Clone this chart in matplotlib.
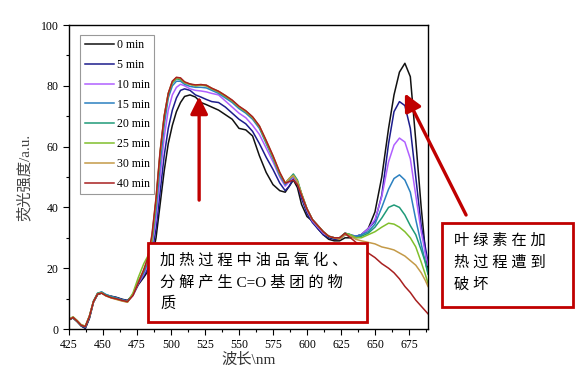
import matplotlib
matplotlib.use('Agg')
import matplotlib.pyplot as plt
from matplotlib.patches import Rectangle
from matplotlib.ticker import MultipleLocator

plt.rcParams['font.family'] = ['Liberation Serif', 'Noto Sans CJK SC']

# wavelength grid (nm)
wl = [425, 428, 431, 434, 437, 440, 443, 446, 449, 452,
      456, 460, 464, 468, 472, 476, 480, 483, 486, 489,
      492, 495, 498, 501, 504, 507, 510, 514, 518, 522,
      526, 530, 535, 540, 545, 550, 555, 560, 565, 570,
      575, 580, 584, 587, 590, 593, 596, 600, 604, 608,
      612, 616, 620, 624, 628, 632, 636, 640, 645, 650,
      655, 660, 664, 668, 672, 676, 680, 684, 687, 689]

t0 = [3.2, 3.6, 2.4, 1.0, 0.2, 3.5, 8.8, 11.3, 11.8, 11.2,
      10.8, 10.4, 9.8, 9.4, 11.2, 14.6, 17.0, 19.0, 23.0, 30.0,
      41.0, 52.0, 61.0, 67.0, 71.5, 74.5, 76.5, 77.0, 76.3, 74.5,
      73.8, 73.0, 72.0, 70.5, 69.0, 66.0, 65.5, 63.5, 57.0, 51.5,
      47.5, 45.5, 45.0, 47.0, 49.0, 46.5, 41.0, 37.0, 35.5, 33.0,
      31.0, 29.5, 29.0, 29.0, 30.0, 30.0, 30.5, 31.0, 33.0, 38.5,
      50.0, 66.0, 77.0, 84.5, 87.4, 83.0, 62.0, 40.0, 26.0, 19.0]

t5 = [3.0, 3.7, 2.5, 1.0, 0.3, 3.6, 8.9, 11.4, 11.9, 11.1,
      10.7, 10.3, 9.7, 9.3, 11.1, 14.8, 17.5, 20.0, 25.0, 33.0,
      45.0, 57.0, 66.0, 72.0, 76.0, 78.5, 79.0, 78.5, 77.0, 76.3,
      75.5, 74.8, 74.5, 73.0, 71.0, 69.0, 67.5, 65.0, 61.0, 56.5,
      52.5, 48.0, 45.5, 47.0, 49.5, 47.5, 43.0, 38.0, 35.0, 33.0,
      31.0, 30.0, 29.5, 29.5, 31.0, 30.5, 30.5, 31.0, 33.0, 35.5,
      44.0, 61.0, 71.5, 74.8, 73.5, 66.0, 50.0, 34.0, 27.0, 22.0]

t10 = [3.1, 3.9, 2.7, 1.3, 0.7, 4.1, 9.0, 11.6, 12.1, 11.3,
       10.6, 10.1, 9.5, 9.1, 11.0, 15.0, 18.0, 21.0, 27.0, 36.0,
       50.0, 63.0, 72.0, 77.0, 79.5, 80.5, 80.0, 79.0, 78.5, 78.3,
       78.0, 77.5, 77.0, 75.0, 73.0, 71.0, 69.5, 67.0, 64.0, 59.5,
       55.0, 50.0, 47.0, 48.5, 50.0, 48.0, 44.0, 39.0, 35.5, 33.5,
       31.5, 30.5, 30.0, 30.0, 31.5, 31.0, 30.5, 31.0, 33.0, 36.0,
       43.5, 55.0, 60.5, 62.8, 61.5, 56.0, 44.0, 32.0, 25.0, 21.0]

t15 = [3.0, 3.8, 2.6, 1.2, 0.8, 4.2, 9.1, 11.7, 12.2, 11.4,
       10.7, 10.2, 9.6, 9.2, 11.3, 15.3, 18.5, 22.0, 28.0, 39.0,
       54.0, 67.0, 76.0, 80.0, 81.5, 81.5, 80.5, 79.8, 79.5, 79.5,
       79.3, 78.5, 77.5, 76.0, 74.5, 72.5, 71.0, 69.0, 66.0, 61.0,
       56.0, 50.5, 47.5, 49.0, 50.5, 48.5, 44.5, 39.5, 36.0, 34.0,
       32.0, 30.5, 30.0, 30.0, 31.5, 31.0, 30.5, 31.0, 32.0, 34.5,
       40.0, 46.0, 49.5, 50.7, 49.0, 45.0, 36.0, 28.0, 22.0, 18.5]

t20 = [3.1, 3.7, 2.5, 1.1, 0.7, 4.0, 9.2, 11.8, 12.1, 11.2,
       10.5, 10.0, 9.4, 9.0, 11.5, 15.8, 19.0, 23.0, 30.0, 42.0,
       57.0, 69.0, 77.0, 81.0, 82.3, 82.0, 81.0, 80.5, 80.0, 80.3,
       80.0, 79.0, 78.0, 76.5, 75.0, 73.0, 71.5, 69.5, 66.5, 61.5,
       56.5, 51.0, 48.0, 49.5, 51.0, 49.0, 44.5, 39.5, 36.0, 34.0,
       32.0, 30.5, 30.0, 30.0, 31.5, 31.0, 30.0, 30.5, 31.5, 33.5,
       36.5, 40.0, 40.8, 40.0, 37.5, 34.0, 31.0, 26.0, 22.0, 18.0]

t25 = [3.3, 4.0, 2.8, 1.4, 1.0, 4.3, 9.0, 11.5, 11.9, 11.0,
       10.3, 9.8, 9.3, 8.9, 11.8, 17.0, 21.5, 24.0, 29.0, 42.0,
       58.0, 70.0, 77.5, 81.0, 82.5, 82.3, 81.0, 80.5, 80.0, 80.2,
       80.0, 79.0, 78.0, 76.5, 75.0, 73.0, 71.5, 69.5, 66.5, 61.5,
       56.5, 51.0, 48.0, 49.5, 50.5, 48.5, 44.5, 39.5, 36.0, 34.0,
       32.0, 30.5, 30.0, 30.0, 31.5, 31.0, 30.0, 30.0, 31.0, 32.0,
       33.5, 34.8, 34.5, 33.5, 32.0, 30.0, 27.0, 22.0, 18.0, 15.0]

t30 = [3.2, 3.9, 2.7, 1.3, 0.9, 4.2, 9.1, 11.6, 11.8, 10.9,
       10.2, 9.7, 9.2, 8.8, 11.2, 15.5, 19.5, 23.0, 30.5, 43.0,
       58.0, 70.0, 77.5, 81.5, 82.7, 82.5, 81.2, 80.5, 80.2, 80.4,
       80.2, 79.2, 78.2, 76.8, 75.2, 73.2, 71.7, 69.7, 66.8, 62.0,
       57.0, 51.5, 48.0, 49.5, 50.5, 48.5, 44.5, 39.5, 36.0, 34.0,
       32.0, 30.5, 30.0, 29.5, 31.0, 30.5, 29.5, 29.0, 28.5, 28.0,
       27.0, 26.5, 26.0, 25.0, 24.0, 22.5, 21.0, 18.5, 16.0, 14.0]

t40 = [3.0, 3.8, 2.6, 1.2, 0.8, 4.1, 9.0, 11.5, 11.8, 11.0,
       10.3, 9.9, 9.4, 9.0, 11.0, 15.2, 19.5, 23.5, 31.0, 43.0,
       58.5, 70.0, 77.5, 81.5, 82.8, 82.6, 81.3, 80.6, 80.3, 80.4,
       80.2, 79.2, 78.2, 76.8, 75.3, 73.3, 71.8, 69.8, 66.8, 62.0,
       57.0, 51.5, 48.0, 48.5, 49.0, 47.5, 44.0, 39.5, 36.0, 34.0,
       32.0, 30.5, 30.0, 30.0, 31.5, 30.0, 28.5, 27.0, 25.0, 23.5,
       21.5, 20.0, 18.5, 16.5, 14.0, 12.0, 9.5, 7.5, 6.0, 5.0]

series = [t0, t5, t10, t15, t20, t25, t30, t40]
labels = ['0 min', '5 min', '10 min', '15 min', '20 min', '25 min', '30 min', '40 min']
colors = ['#111111', '#1c1c8c', '#b060ff', '#2b80c0', '#1f9a78',
          '#80bf2c', '#c49a48', '#a82020']

fig = plt.figure(figsize=(5.81, 3.71), dpi=100)
ax = fig.add_axes([69 / 581, 42 / 371, 359 / 581, 304 / 371])

for ys, lab, c in zip(series, labels, colors):
    ax.plot(wl, ys, color=c, lw=1.1, label=lab)

ax.set_xlim(425, 689)
ax.set_ylim(0, 100)
ax.xaxis.set_major_locator(MultipleLocator(25))
ax.xaxis.set_minor_locator(MultipleLocator(12.5))
ax.yaxis.set_major_locator(MultipleLocator(20))
ax.yaxis.set_minor_locator(MultipleLocator(10))
ax.tick_params(which='both', direction='out', top=False, right=False,
               labelsize=8.5)
ax.tick_params(which='major', length=4, width=0.8)
ax.tick_params(which='minor', length=2.5, width=0.8)
for sp in ax.spines.values():
    sp.set_linewidth(1.0)

ax.set_xlabel('波长\\nm', fontsize=11, color='#333333', labelpad=1)
ax.set_ylabel('荧光强度/a.u.', fontsize=11, color='#444444')
ax.yaxis.set_label_coords(-0.103, 0.5)

leg = ax.legend(loc='upper left', bbox_to_anchor=(0.032, 0.967),
                borderaxespad=0, fontsize=8.5, fancybox=False,
                edgecolor='#999999', framealpha=1, handlelength=2.5,
                labelspacing=0.66, handletextpad=0.25, borderpad=0.35)
leg.get_frame().set_linewidth(0.8)

red = '#c00000'
# arrows
astyle = '-|>,head_length=0.8,head_width=0.4'
ax.annotate('', xy=(520.7, 76.5), xytext=(520.7, 42.4),
            arrowprops=dict(arrowstyle=astyle, color=red, lw=2.4,
                            mutation_scale=13, shrinkA=0, shrinkB=0))
ax.annotate('', xy=(672, 77.5), xytext=(717, 37.5), annotation_clip=False,
            arrowprops=dict(arrowstyle=astyle, color=red, lw=2.4,
                            mutation_scale=13, shrinkA=0, shrinkB=0))


def fx(px):
    return px / 581


def fy(py):
    return 1 - py / 371


# annotation boxes
fig.patches.append(Rectangle((fx(148), fy(322)), fx(367) - fx(148), fy(243) - fy(322),
                             transform=fig.transFigure, facecolor='white',
                             edgecolor=red, lw=2, zorder=5))
fig.patches.append(Rectangle((fx(442), fy(307)), fx(573) - fx(442), fy(223) - fy(307),
                             transform=fig.transFigure, facecolor='white',
                             edgecolor=red, lw=2, zorder=5))

fig.text(fx(160), fy(253), '加 热 过 程 中 油 品 氧 化 、\n分 解 产 生 C=O 基 团 的 物\n质',
         fontsize=11, va='top', ha='left', linespacing=1.65, zorder=6)
fig.text(fx(454), fy(234), '叶 绿 素 在 加\n热 过 程 遭 到\n破 坏',
         fontsize=11, va='top', ha='left', linespacing=1.65, zorder=6)

fig.savefig('out.png', dpi=100)
